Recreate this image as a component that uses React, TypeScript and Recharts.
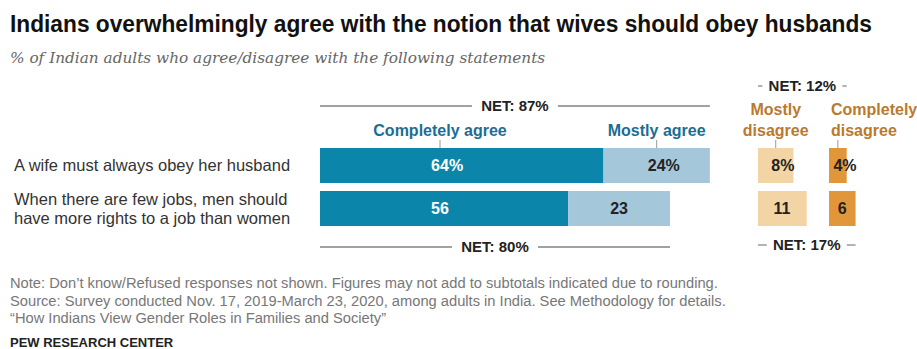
import React from "react";
import { BarChart, Bar, XAxis, YAxis, LabelList } from "recharts";

const categories = [
  "A wife must always obey her husband",
  "When there are few jobs, men should\nhave more rights to a job than women",
];
const completelyAgree = [64, 56];
const mostlyAgree = [24, 23];
const mostlyDisagree = [8, 11];
const completelyDisagree = [4, 6];
const netAgree = [87, 80];
const netDisagree = [12, 17];

const rows = categories.map((category, i) => ({
  category,
  completelyAgree: completelyAgree[i],
  mostlyAgree: mostlyAgree[i],
  mostlyDisagree: mostlyDisagree[i],
  completelyDisagree: completelyDisagree[i],
}));

const W = 917;
const H = 270;
const PLOT_TOP = 144;
const PLOT_H = 86;
const PX = 4.43; // pixels per percentage point
const AGREE_LEFT = 320;
const MD_LEFT = 758;
const CD_LEFT = 829;
const CD_SPAN = (W - CD_LEFT) / PX;

const DARK_BLUE = "#0b86aa";
const LIGHT_BLUE = "#a5c7da";
const LIGHT_ORANGE = "#f3d4a4";
const DARK_ORANGE = "#e1963a";
const BLUE_TEXT = "#1b6e93";
const ORANGE_TEXT = "#b97a30";

const SANS = "'Liberation Sans', Arial, sans-serif";
const TITLE_SQUEEZE = 0.9;

// plotStart = where the bars begin, span = how many points the plot covers
const chartMargin = (marginLeft: number, plotStart: number, span: number) => ({
  top: PLOT_TOP,
  bottom: H - PLOT_TOP - PLOT_H,
  left: marginLeft,
  right: Math.max(0, W - plotStart - span * PX),
});

const boldText = { fontFamily: SANS, fontWeight: 700 };

const CategoryTick = (props: any) => {
  const { y, payload } = props;
  const lines = String(payload.value).split("\n");
  const lh = 19;
  const start = y - ((lines.length - 1) * lh) / 2;
  return (
    <text fontFamily={SANS} fontSize={16.5} fill="#333">
      {lines.map((l, i) => (
        <tspan key={i} x={14} y={start + i * lh} dy="0.35em">
          {l}
        </tspan>
      ))}
    </text>
  );
};

// value inside a segment; the number is centred, the % sign hangs off it
const valueLabel = (color: string, fixedOffset?: number) => (props: any) => {
  const { x, y, width, height, value, index } = props;
  const cx = fixedOffset != null ? x + fixedOffset : x + width / 2;
  const cy = y + height / 2;
  const numW = String(value).length * 8.9;
  return (
    <text x={cx - numW / 2} y={cy} dy="0.36em" fontSize={16} fill={color} style={boldText}>
      {value}
      {index === 0 ? "%" : ""}
    </text>
  );
};

const Header = ({ x, y, lines, color, anchor }: any) => (
  <text fontSize={16} fill={color} textAnchor={anchor} style={boldText}>
    {lines.map((l: string, i: number) => (
      <tspan key={i} x={x} y={y - (lines.length - 1 - i) * 21} dy="0.35em">
        {l}
      </tspan>
    ))}
  </text>
);

const Tick = ({ x, y }: any) => (
  <line x1={x} x2={x} y1={y - 8} y2={y} stroke="#999" strokeWidth={1} />
);

const NetBracket = ({ x1, x2, y, label, gap, color }: any) => {
  const mid = (x1 + x2) / 2;
  return (
    <g>
      {mid - gap > x1 && <line x1={x1} x2={mid - gap} y1={y} y2={y} stroke={color} strokeWidth={1} />}
      {mid + gap < x2 && <line x1={mid + gap} x2={x2} y1={y} y2={y} stroke={color} strokeWidth={1} />}
      <text x={mid} y={y} dy="0.36em" textAnchor="middle" fontSize={15} fill="#222" style={boldText}>
        {label}
      </text>
    </g>
  );
};

const caLabel = (props: any) => {
  const { x, y, index } = props;
  return (
    <g>
      {valueLabel("#fff", 120)(props)}
      {index === 0 && (
        <g>
          <Header x={x + 120} y={y - 18} lines={["Completely agree"]} color={BLUE_TEXT} anchor="middle" />
          <Tick x={x + 120} y={y} />
        </g>
      )}
    </g>
  );
};

const maLabel = (props: any) => {
  const { x, y, width, height, index } = props;
  return (
    <g>
      {valueLabel("#222")(props)}
      {index === 0 && (
        <g>
          <Header x={x + width / 2} y={y - 18} lines={["Mostly agree"]} color={BLUE_TEXT} anchor="middle" />
          <Tick x={x + width / 2} y={y} />
        </g>
      )}
      <NetBracket
        x1={AGREE_LEFT}
        x2={x + width}
        y={index === 0 ? y - 42 : y + height + 21}
        label={`NET: ${netAgree[index]}%`}
        gap={43}
        color="#444"
      />
    </g>
  );
};

const mdLabel = (props: any) => {
  const { x, y, width, index } = props;
  return (
    <g>
      {valueLabel("#222")(props)}
      {index === 0 && (
        <g>
          <Header x={x + width / 2} y={y - 18} lines={["Mostly", "disagree"]} color={ORANGE_TEXT} anchor="middle" />
          <Tick x={x + width / 2} y={y} />
        </g>
      )}
    </g>
  );
};

const cdLabel = (props: any) => {
  const { x, y, width, height, index } = props;
  return (
    <g>
      {valueLabel("#222")(props)}
      {index === 0 && (
        <g>
          <Header x={x + 2} y={y - 18} lines={["Completely", "disagree"]} color={ORANGE_TEXT} anchor="start" />
          <Tick x={x + width / 2} y={y} />
        </g>
      )}
      <NetBracket
        x1={MD_LEFT}
        x2={x + width}
        y={index === 0 ? y - 62 : y + height + 19}
        label={`NET: ${netDisagree[index]}%`}
        gap={40}
        color="#666"
      />
    </g>
  );
};

const layer: React.CSSProperties = { position: "absolute", top: 0, left: 0 };

const App = () => {
  return (
    <div style={{ position: "absolute", top: 0, left: 0, width: W, height: 349, background: "#fff", overflow: "hidden" }}>
      <svg width={W} height={349} style={layer}>
        <g transform={`translate(10, 32) scale(${TITLE_SQUEEZE}, 1)`}>
          <text
            x={0}
            y={0}
            fontFamily={SANS}
            fontWeight={700}
            fontSize={24}
            fill="#111"
            textLength={862 / TITLE_SQUEEZE}
            lengthAdjust="spacingAndGlyphs"
          >
            Indians overwhelmingly agree with the notion that wives should obey husbands
          </text>
        </g>
        <text x={10} y={63} fontFamily="'DejaVu Serif', serif" fontStyle="italic" fontSize={15.3} fill="#666">
          % of Indian adults who agree/disagree with the following statements
        </text>
        <g fontFamily={SANS} fontSize={14.7} fill="#777">
          <text x={10} y={288}>
            Note: Don’t know/Refused responses not shown. Figures may not add to subtotals indicated due to rounding.
          </text>
          <text x={10} y={306}>
            Source: Survey conducted Nov. 17, 2019-March 23, 2020, among adults in India. See Methodology for details.
          </text>
          <text x={10} y={323}>“How Indians View Gender Roles in Families and Society”</text>
        </g>
        <text x={10} y={347} fontFamily={SANS} fontWeight={700} fontSize={13} fill="#222">
          PEW RESEARCH CENTER
        </text>
      </svg>

      <div style={layer}>
        <BarChart width={W} height={H} data={rows} layout="vertical" margin={chartMargin(14, AGREE_LEFT, 100)} barCategoryGap={4}>
          <XAxis type="number" domain={[0, 100]} hide />
          <YAxis
            type="category"
            dataKey="category"
            width={AGREE_LEFT - 14}
            axisLine={false}
            tickLine={false}
            tick={<CategoryTick />}
          />
          <Bar dataKey="completelyAgree" stackId="agree" fill={DARK_BLUE} isAnimationActive={false}>
            <LabelList dataKey="completelyAgree" content={caLabel} />
          </Bar>
          <Bar dataKey="mostlyAgree" stackId="agree" fill={LIGHT_BLUE} isAnimationActive={false}>
            <LabelList dataKey="mostlyAgree" content={maLabel} />
          </Bar>
        </BarChart>
      </div>

      <div style={layer}>
        <BarChart width={W} height={H} data={rows} layout="vertical" margin={chartMargin(MD_LEFT, MD_LEFT, 20)} barCategoryGap={4}>
          <XAxis type="number" domain={[0, 20]} hide />
          <YAxis type="category" dataKey="category" hide width={0} />
          <Bar dataKey="mostlyDisagree" fill={LIGHT_ORANGE} isAnimationActive={false}>
            <LabelList dataKey="mostlyDisagree" content={mdLabel} />
          </Bar>
        </BarChart>
      </div>

      <div style={layer}>
        <BarChart width={W} height={H} data={rows} layout="vertical" margin={chartMargin(CD_LEFT, CD_LEFT, CD_SPAN)} barCategoryGap={4}>
          <XAxis type="number" domain={[0, CD_SPAN]} hide />
          <YAxis type="category" dataKey="category" hide width={0} />
          <Bar dataKey="completelyDisagree" fill={DARK_ORANGE} isAnimationActive={false}>
            <LabelList dataKey="completelyDisagree" content={cdLabel} />
          </Bar>
        </BarChart>
      </div>
    </div>
  );
};

export default App;
